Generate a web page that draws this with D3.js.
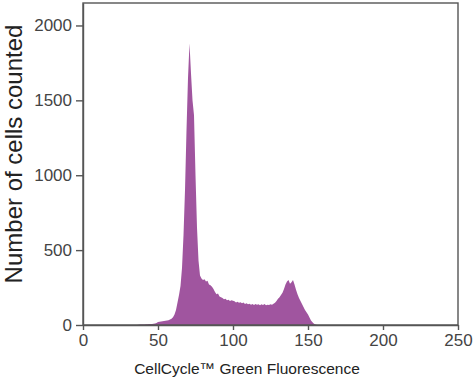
<!DOCTYPE html>
<html>
<head>
<meta charset="utf-8">
<script src="https://cdn.jsdelivr.net/npm/d3@7"></script>
<style>
  body { margin: 0; background: #fff; }
  text { font-family: "Liberation Sans", Arial, sans-serif; }
</style>
</head>
<body>
<div id="chart"></div>
<script>

// --------------------------------------
//  Data
// --------------------------------------

// fluorescence channel, one bin per unit
const fluorescence = d3.range(36, 157);

// cells counted per channel, from 36 to 156
const counts = [
  0, 2, 3, 3, 4, 4, 5, 5, 6, 6,          // 36-45
  7, 8, 10, 14, 20, 22, 24, 25, 27, 28,  // 46-55
  30, 32, 36, 42, 52, 70, 100, 150, 200, 260, // 56-65
  380, 600, 900, 1300, 1650, 1880, 1680, 1500, 1400, 1000, // 66-75
  650, 430, 330, 310, 300, 305, 290, 295, 270, 265, // 76-85
  255, 240, 220, 205, 210, 190, 185, 180, 172, 175, // 86-95
  165, 168, 160, 166, 162, 158, 150, 155, 148, 152, // 96-105
  145, 150, 140, 146, 138, 142, 136, 140, 133, 140, // 106-115
  135, 138, 132, 138, 134, 140, 132, 136, 133, 138, // 116-125
  135, 142, 148, 160, 175, 185, 200, 215, 240, 270, // 126-135
  290, 300, 275, 285, 300, 270, 235, 205, 180, 160, // 136-145
  140, 120, 100, 85, 70, 50, 30, 18, 8, 3,          // 146-155
  0                                                 // 156
];

const xTicks = [0, 50, 100, 150, 200, 250];
const yTicks = [0, 500, 1000, 1500, 2000];

const xTitle = "CellCycle™ Green Fluorescence";
const yTitle = "Number of cells counted";

const data = fluorescence.map((f, i) => ({ f: f, n: counts[i] }));

// --------------------------------------
//  Margin and canvas
// --------------------------------------

const margin = {top: 3, right: 16, bottom: 67, left: 83};
const width = 474;
const height = 392;
const innerwidth = width - margin.left - margin.right;
const innerheight = height - margin.top - margin.bottom;

const svg = d3.select("#chart")
  .append("svg")
    .attr("width", width)
    .attr("height", height);

const innerChart = svg
  .append("g")
    .attr("transform", `translate(${margin.left}, ${margin.top})`);

// --------------------------------------
//  Scales
// --------------------------------------

let x = d3.scaleLinear()
    .domain([0, 250])
    .range([0, innerwidth]);

let y = d3.scaleLinear()
    .domain([0, 2150])
    .range([innerheight, 0]);

// --------------------------------------
//  Histogram
// --------------------------------------

const area = d3.area()
    .x(d => x(d.f))
    .y0(innerheight)
    .y1(d => y(d.n));

innerChart
  .append("path")
    .datum(data)
    .attr("d", area)
    .attr("fill", "#a0559f");

// frame
innerChart
  .append("rect")
    .attr("width", innerwidth)
    .attr("height", innerheight)
    .attr("fill", "none")
    .attr("stroke", "#555")
    .attr("stroke-width", 1.4);

// --------------------------------------
//  Axes
// --------------------------------------

const xAxis = innerChart
  .append("g")
    .attr("transform", `translate(0, ${innerheight})`)
    .call(d3.axisBottom(x).tickValues(xTicks).tickFormat(d3.format("d"))
      .tickSize(5).tickSizeOuter(0).tickPadding(4));

const yAxis = innerChart
  .append("g")
    .call(d3.axisLeft(y).tickValues(yTicks).tickFormat(d3.format("d"))
      .tickSize(7).tickSizeOuter(0).tickPadding(4));

[xAxis, yAxis].forEach(g => {
  g.select(".domain").attr("stroke", "#555").attr("stroke-width", 1.4);
  g.selectAll(".tick line").attr("stroke", "#555").attr("stroke-width", 1.4);
  g.selectAll(".tick text")
    .attr("fill", "#444")
    .attr("font-size", 17)
    .attr("font-family", "Liberation Sans, Arial, sans-serif");
});

// titles
svg.append("text")
    .attr("x", 247)
    .attr("y", 374)
    .attr("text-anchor", "middle")
    .attr("font-size", 15.5)
    .attr("fill", "#222")
    .text(xTitle);

svg.append("text")
    .attr("transform", "translate(22, 154) rotate(-90)")
    .attr("text-anchor", "middle")
    .attr("font-size", 24)
    .attr("fill", "#222")
    .text(yTitle);

</script>
</body>
</html>
